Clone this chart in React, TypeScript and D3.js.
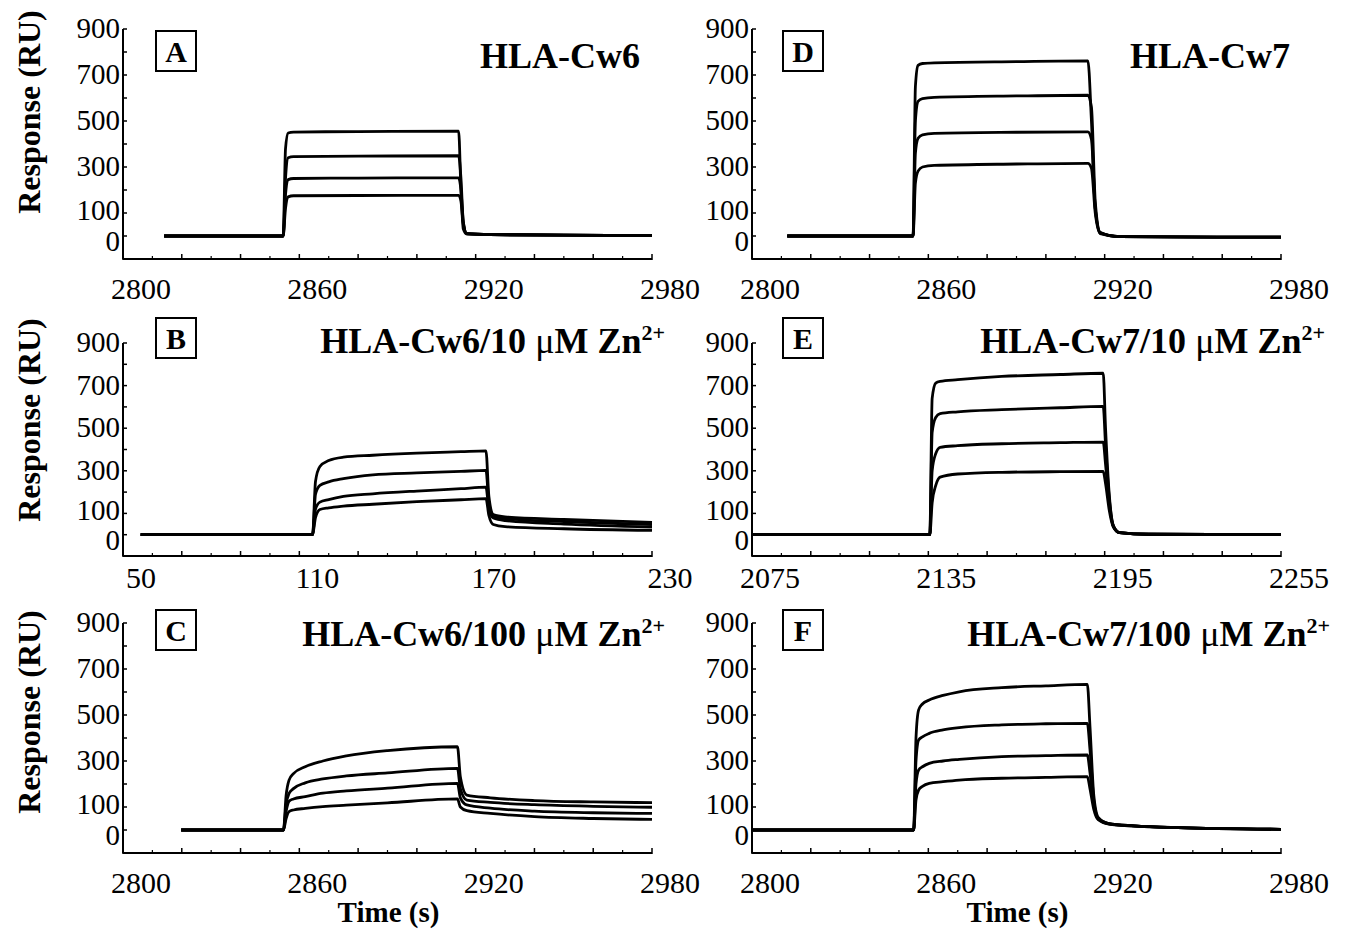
import React from 'react';
import * as d3 from 'd3';

// ---------- data (response in RU) ----------
const timeA = [2814, 2854.5, 2855.3, 2856.2, 2858, 2880, 2914.2, 2915, 2915.8, 2917, 2925, 2950, 2980];
const seriesA = [
  [0, 0, 380, 448, 452, 454, 456, 200, 30, 8, 6, 4, 2],
  [0, 0, 250, 340, 345, 347, 349, 250, 60, 10, 6, 4, 2],
  [0, 0, 180, 245, 250, 252, 253, 200, 60, 10, 6, 4, 2],
  [0, 0, 120, 170, 175, 176, 177, 150, 50, 10, 6, 4, 2],
];

const timeB = [56, 114.5, 115.5, 117, 120, 125, 135, 150, 165, 173.5, 174.5, 176, 180, 200, 230];
const seriesB = [
  [0, 0, 250, 320, 348, 364, 373, 383, 390, 394, 180, 95, 84, 72, 58],
  [0, 0, 190, 232, 248, 263, 281, 290, 297, 302, 150, 88, 76, 62, 48],
  [0, 0, 120, 153, 165, 180, 192, 205, 216, 223, 120, 78, 66, 50, 36],
  [0, 0, 80, 118, 126, 134, 143, 155, 164, 169, 90, 48, 38, 28, 20],
];

const timeC = [2819.8, 2854.6, 2855.5, 2856.5, 2858, 2862, 2868, 2876, 2890, 2913.8, 2914.8, 2917, 2925, 2940, 2960, 2980];
const seriesC = [
  [0, 0, 150, 217, 245, 275, 300, 322, 345, 362, 230, 152, 140, 128, 122, 119],
  [0, 0, 110, 159, 180, 205, 222, 235, 248, 268, 180, 130, 120, 110, 103, 99],
  [0, 0, 80, 125, 135, 145, 160, 170, 182, 203, 140, 109, 95, 82, 75, 72],
  [0, 0, 50, 80, 87, 94, 102, 108, 118, 135, 100, 84, 72, 58, 50, 46],
];

const timeD = [2812, 2854.8, 2855.6, 2856.5, 2858, 2862, 2890, 2914.3, 2915.5, 2916.8, 2918.5, 2925, 2980];
const seriesD = [
  [0, 0, 650, 742, 750, 753, 758, 761, 500, 120, 10, -3, -5],
  [0, 0, 500, 585, 597, 603, 609, 612, 560, 150, 15, -3, -5],
  [0, 0, 360, 425, 440, 446, 451, 453, 420, 120, 15, -3, -5],
  [0, 0, 230, 282, 300, 307, 313, 316, 295, 100, 12, -3, -5],
];

const timeE = [2075, 2135.5, 2136.3, 2137.5, 2139, 2145, 2160, 2180, 2194.5, 2195.3, 2196.5, 2198, 2200, 2210, 2255];
const seriesE = [
  [0, 0, 640, 712, 720, 728, 743, 752, 758, 500, 200, 40, 10, 2, 0],
  [0, 0, 480, 550, 568, 577, 587, 596, 602, 420, 180, 40, 10, 2, 0],
  [0, 0, 300, 380, 410, 418, 427, 432, 435, 330, 150, 38, 10, 2, 0],
  [0, 0, 150, 230, 270, 285, 293, 296, 297, 240, 120, 35, 10, 2, 0],
];

const timeF = [2800, 2855, 2855.8, 2856.7, 2858, 2860.3, 2865, 2870.5, 2885, 2900, 2914.1, 2915, 2916.3, 2917.8, 2921.4, 2930, 2945, 2980];
const seriesF = [
  [0, 0, 400, 522, 548, 565, 585, 601, 619, 627, 633, 450, 150, 55, 28, 18, 10, 3],
  [0, 0, 300, 391, 405, 420, 435, 445, 457, 462, 464, 350, 130, 50, 28, 18, 10, 3],
  [0, 0, 200, 261, 275, 290, 300, 307, 319, 323, 326, 250, 110, 48, 27, 18, 10, 3],
  [0, 0, 130, 174, 190, 203, 210, 217, 225, 229, 232, 180, 90, 45, 26, 17, 10, 3],
];

const yTickLabels = [900, 700, 500, 300, 100, 0];
const xLabels2800 = [2800, 2860, 2920, 2980];
const xLabelsB = [50, 110, 170, 230];
const xLabelsE = [2075, 2135, 2195, 2255];

const panels = [
  { letter: 'A', name: 'HLA-Cw6', zn: '', t: timeA, s: seriesA, xl: xLabels2800, col: 0, row: 0 },
  { letter: 'B', name: 'HLA-Cw6/10 ', zn: '10', t: timeB, s: seriesB, xl: xLabelsB, col: 0, row: 1 },
  { letter: 'C', name: 'HLA-Cw6/100 ', zn: '100', t: timeC, s: seriesC, xl: xLabels2800, col: 0, row: 2 },
  { letter: 'D', name: 'HLA-Cw7', zn: '', t: timeD, s: seriesD, xl: xLabels2800, col: 1, row: 0 },
  { letter: 'E', name: 'HLA-Cw7/10 ', zn: '10', t: timeE, s: seriesE, xl: xLabelsE, col: 1, row: 1 },
  { letter: 'F', name: 'HLA-Cw7/100 ', zn: '100', t: timeF, s: seriesF, xl: xLabels2800, col: 1, row: 2 },
];

// ---------- layout ----------
const cols = [{ x0: 123, x1: 652, box: 156 }, { x0: 752, x1: 1281, box: 783 }];
const rows = [
  { top: 29, bottom: 259, box: 31, title: 68, lab: 112, xl: 40 },
  { top: 343, bottom: 556, box: 318, title: 353, lab: 420, xl: 32 },
  { top: 623, bottom: 853, box: 610, title: 646, lab: 712, xl: 40 },
];
const titleEnd = [[640, 665, 665], [1290, 1325, 1330]];
const FONT = '"Liberation Serif", "Times New Roman", serif';

function Panel({ p }) {
  const c = cols[p.col];
  const r = rows[p.row];
  const xd = [p.xl[0], p.xl[p.xl.length - 1]];
  const x = d3.scaleLinear().domain(xd).range([c.x0, c.x1]);
  const y = d3.scaleLinear().domain([-100, 900]).range([r.bottom, r.top]);
  const line = d3
    .line()
    .x((d) => x(d[0]))
    .y((d) => y(d[1]))
    .curve(d3.curveMonotoneX);

  const yTicks = d3.range(-100, 901, 100);
  const xMajor = d3.range(xd[0], xd[1] + 0.1, 20);
  const xMinor = d3.range(xd[0] + 10, xd[1], 20);

  return (
    <g>
      {/* curves */}
      {p.s.map((vals, i) => (
        <path
          key={i}
          d={line(p.t.map((t, j) => [t, vals[j]]))}
          fill="none"
          stroke="#000"
          strokeWidth={2.8}
          strokeLinejoin="round"
        />
      ))}
      {/* axes */}
      <line x1={c.x0} x2={c.x0} y1={r.top} y2={r.bottom} stroke="#000" strokeWidth={2} />
      <line x1={c.x0} x2={c.x1} y1={r.bottom} y2={r.bottom} stroke="#000" strokeWidth={2.2} />
      {yTicks.map((v) => (
        <line key={v} x1={c.x0} x2={c.x0 + 4} y1={y(v)} y2={y(v)} stroke="#000" strokeWidth={1.5} />
      ))}
      {xMajor.map((v) => (
        <line key={v} x1={x(v)} x2={x(v)} y1={r.bottom + 1} y2={r.bottom - 5} stroke="#000" strokeWidth={1.5} />
      ))}
      {xMinor.map((v) => (
        <line key={'m' + v} x1={x(v)} x2={x(v)} y1={r.bottom} y2={r.bottom - 3} stroke="#000" strokeWidth={1.2} />
      ))}
      {/* tick labels */}
      {yTickLabels.map((v) => (
        <text
          key={v}
          x={c.x0 - 3}
          y={y(v) + (v === 0 ? 15 : v === 100 ? 7 : 9)}
          textAnchor="end"
          fontSize={29}
          fontFamily={FONT}
        >
          {v}
        </text>
      ))}
      {p.xl.map((v) => (
        <text key={v} x={x(v) + 18} y={r.bottom + r.xl} textAnchor="middle" fontSize={30} fontFamily={FONT}>
          {v}
        </text>
      ))}
      {/* letter box */}
      <rect x={c.box} y={r.box} width={40} height={40} fill="#fff" stroke="#000" strokeWidth={2} />
      <text
        x={c.box + 20}
        y={r.box + 31}
        textAnchor="middle"
        fontSize={30}
        fontWeight="bold"
        fontFamily={FONT}
      >
        {p.letter}
      </text>
      {/* title */}
      <text
        x={titleEnd[p.col][p.row]}
        y={r.title}
        textAnchor="end"
        fontSize={36}
        fontWeight="bold"
        fontFamily={FONT}
      >
        {p.zn ? (
          <>
            <tspan>{p.name}</tspan>
            <tspan fontWeight="normal">μ</tspan>
            <tspan>M Zn</tspan>
            <tspan fontSize={22} dy={-13}>2+</tspan>
          </>
        ) : (
          p.name
        )}
      </text>
      {/* y axis title */}
      {p.col === 0 && (
        <text
          transform={`translate(40,${r.lab}) rotate(-90)`}
          textAnchor="middle"
          fontSize={32}
          fontWeight="bold"
          fontFamily={FONT}
        >
          Response (RU)
        </text>
      )}
      {p.row === 2 && (
        <text
          x={(c.x0 + c.x1) / 2 + 1}
          y={922}
          textAnchor="middle"
          fontSize={29}
          fontWeight="bold"
          fontFamily={FONT}
        >
          Time (s)
        </text>
      )}
    </g>
  );
}

export default function App() {
  return (
    <svg
      width={1350}
      height={931}
      style={{ position: 'absolute', left: 0, top: 0, background: '#fff' }}
    >
      <rect width={1350} height={931} fill="#fff" />
      {panels.map((p) => (
        <Panel key={p.letter} p={p} />
      ))}
    </svg>
  );
}
